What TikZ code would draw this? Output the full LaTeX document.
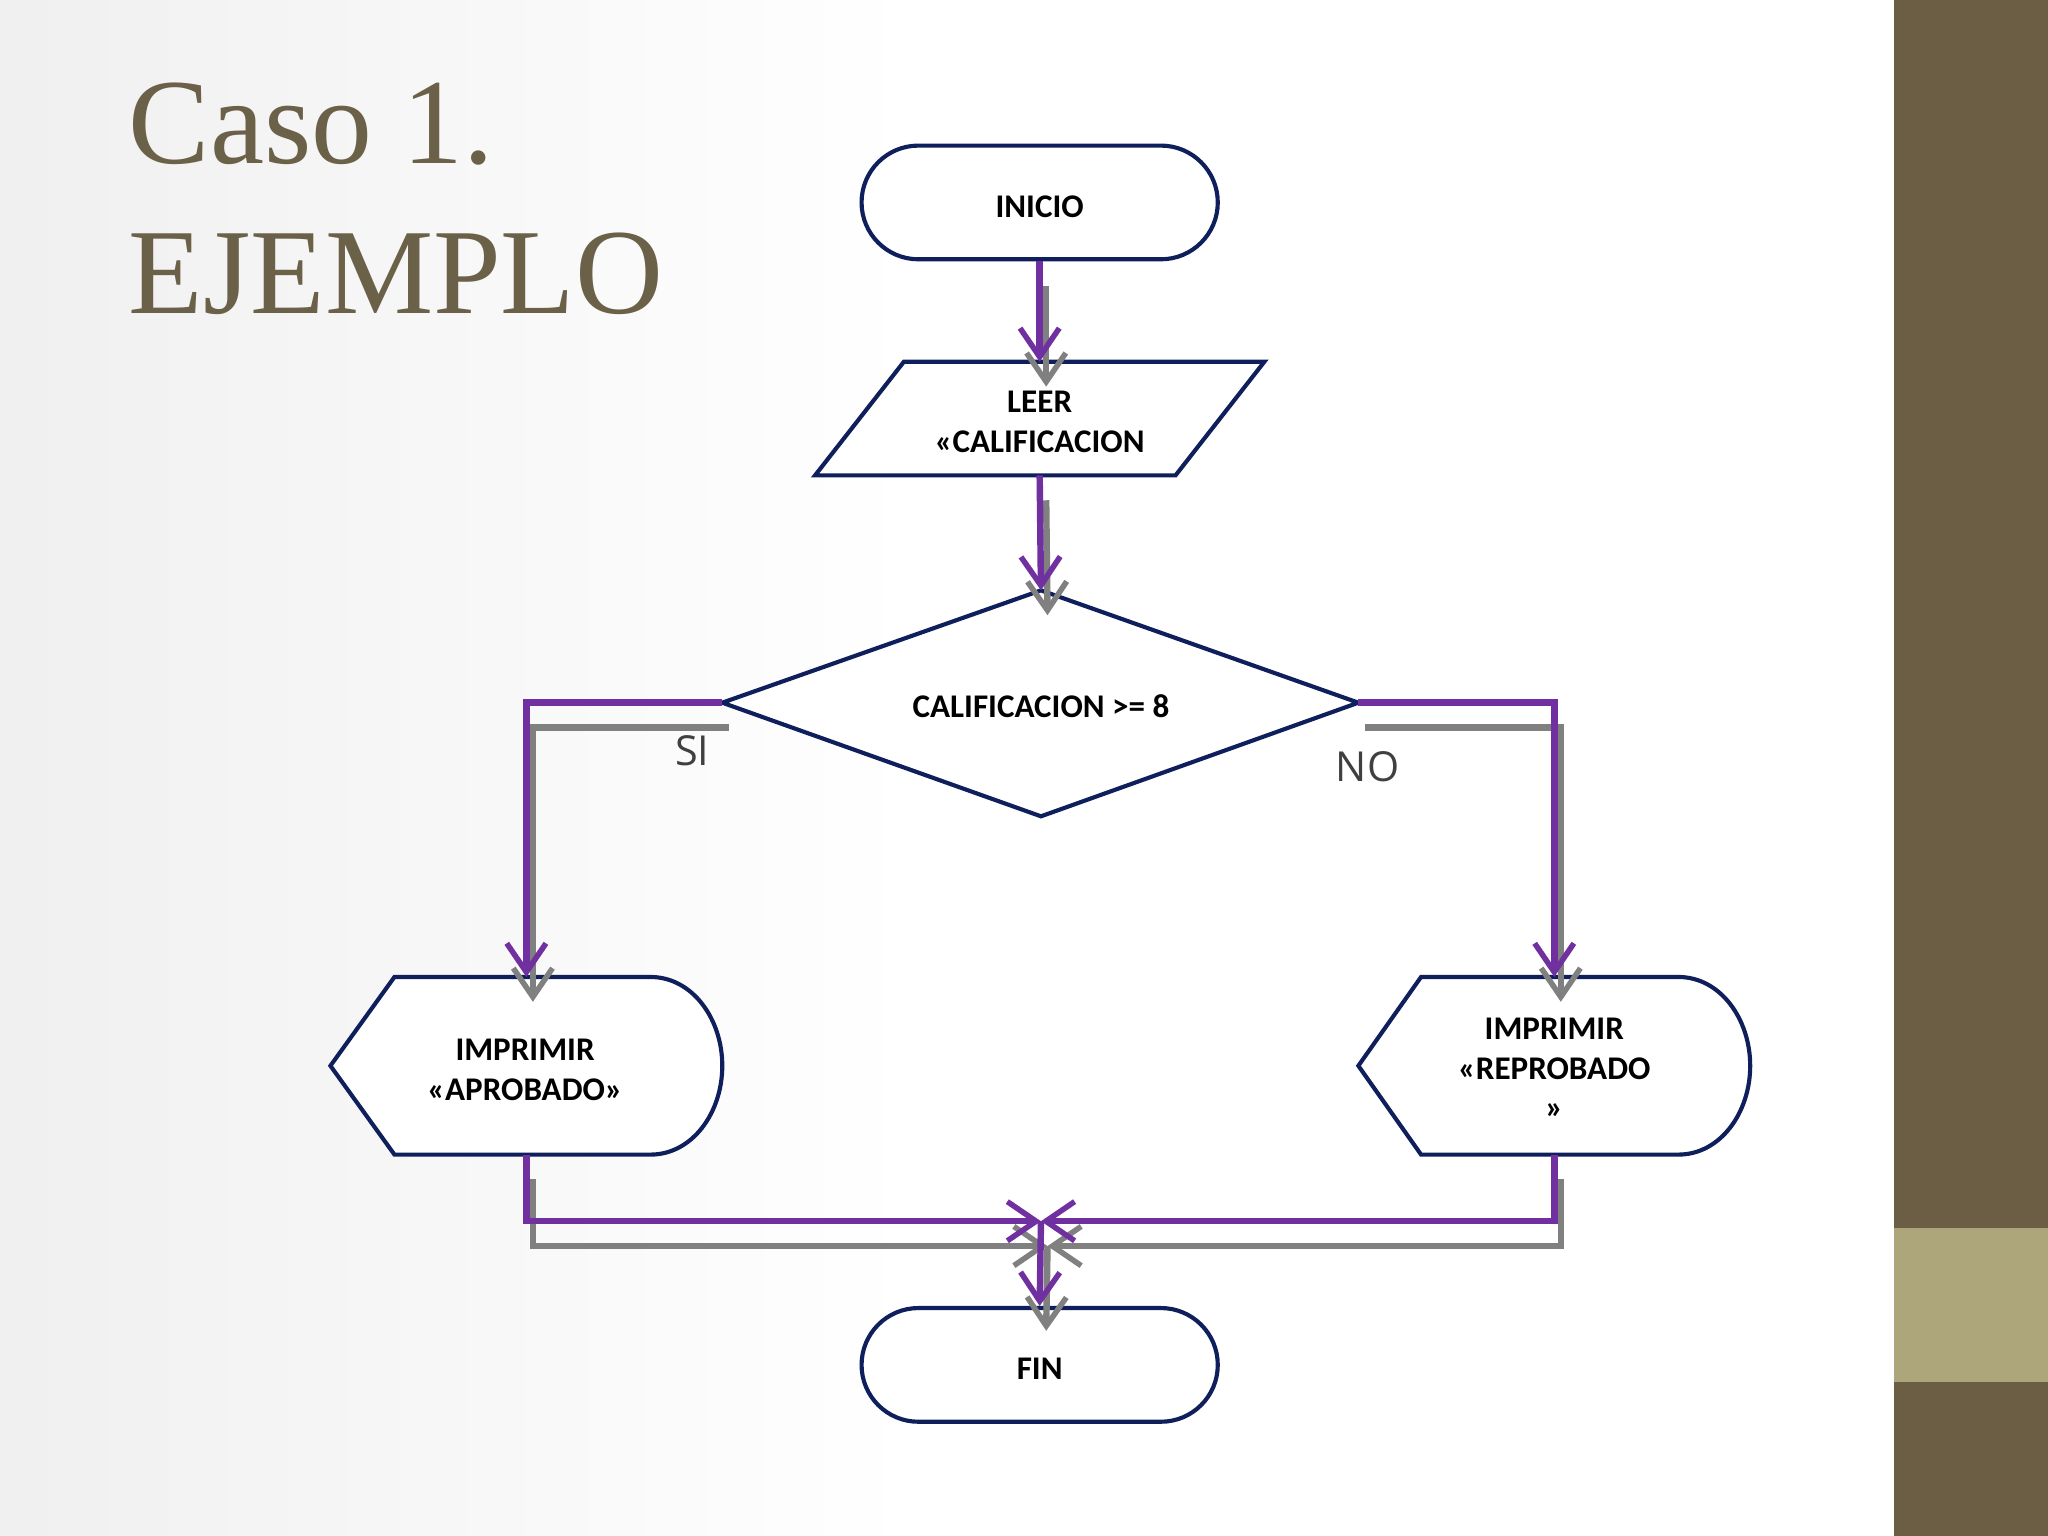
\documentclass[tikz,border=0pt]{standalone}
\usepackage{fontspec}
\setmainfont{Liberation Serif}
\newfontfamily\boxfont{Carlito}
\newfontfamily\lblfont{Open Sans}
\usetikzlibrary{shapes.misc,arrows.meta}
\definecolor{brownband}{HTML}{6B5E45}
\definecolor{lightband}{HTML}{ADA67A}
\definecolor{titlec}{HTML}{6B6148}
\definecolor{navy}{HTML}{0F1F5C}
\definecolor{purp}{HTML}{7030A0}
\begin{document}
\begin{tikzpicture}[x=0.01cm,y=-0.01cm,
  shp/.style={draw=navy,line width=0.9pt,fill=white},
  term/.style={shp,rounded rectangle,minimum width=2.96cm,minimum height=0.87cm},
  txt/.style={font=\boxfont\bfseries\fontsize{7.2pt}{8.6pt}\selectfont,align=center,text=black},
  conn/.style={draw=purp,line width=1.4pt,
    preaction={draw=gray!110!black,draw=gray,line width=1.4pt,transform canvas={shift={(0.05cm,-0.19cm)}}}},
  arr/.style={-{Straight Barb[length=0.22cm,width=0.3cm,line width=1.2pt]}},
  lbl/.style={font=\lblfont\fontsize{9pt}{10pt}\selectfont,text=black!75},
  ttl/.style={anchor=base west,inner sep=0pt,text=titlec,font=\fontsize{26.5pt}{30pt}\selectfont}]
\useasboundingbox (0,0) rectangle (1568,1176);
\shade[left color=gray!12,right color=white] (0,0) rectangle (700,1176);
\fill[white] (700,0) rectangle (1450,1176);
\fill[brownband] (1450,0) rectangle (1568,1176);
\fill[lightband] (1450,940) rectangle (1568,1058);
\node[ttl] (title) at (98,125) {Caso 1.};
\node[ttl] (title2) at (98,240) {EJEMPLO};
% shapes
\node[term] (inicio) at (796,155) {};
\node[txt] (inicioT) at (796,158) {INICIO};
\draw[shp] (692,277) -- (968,277) -- (900,364) -- (624,364) -- cycle;
\coordinate (leerTop) at (796,277);
\coordinate (leerBot) at (796,364);
\node[txt] (leerT) at (796,323) {LEER\\«CALIFICACION};
\draw[shp] (553,538) -- (797,452) -- (1040,538) -- (797,625) -- cycle;
\coordinate (dTop) at (797,452);
\coordinate (dL) at (553,538);
\coordinate (dR) at (1040,538);
\node[txt] (dT) at (797,541) {CALIFICACION >= 8};
\draw[shp] (253,816) -- (302,748) -- (498,748) .. controls (530,748) and (553,780) .. (553,816) .. controls (553,852) and (530,884) .. (498,884) -- (302,884) -- cycle;
\coordinate (aTop) at (403,748);
\coordinate (aBot) at (403,884);
\node[txt] (aT) at (402,819) {IMPRIMIR\\«APROBADO»};
\draw[shp] (1040,816) -- (1088,748) -- (1285,748) .. controls (1317,748) and (1340,780) .. (1340,816) .. controls (1340,852) and (1317,884) .. (1285,884) -- (1088,884) -- cycle;
\coordinate (rTop) at (1190,748);
\coordinate (rBot) at (1190,884);
\node[txt] (rT) at (1190,818) {IMPRIMIR\\«REPROBADO\\»};
\node[term] (fin) at (796,1045) {};
\node[txt] (finT) at (796,1048) {FIN};
\coordinate (merge) at (797,935);
% connectors
\draw[conn,arr] (inicio.south) -- (leerTop);
\draw[conn,arr] (leerBot) -- (dTop);
\draw[conn,arr] (dL) -- (403,538) -- (aTop);
\draw[conn,arr] (dR) -- (1190,538) -- (rTop);
\draw[conn,arr] (aBot) -- (403,935) -- (merge);
\draw[conn,arr] (rBot) -- (1190,935) -- (merge);
\draw[conn,arr] (merge) -- (fin.north);
\node[lbl] (si) at (530,575) {SI};
\node[lbl] (no) at (1047,587) {NO};
\end{tikzpicture}
\end{document}
